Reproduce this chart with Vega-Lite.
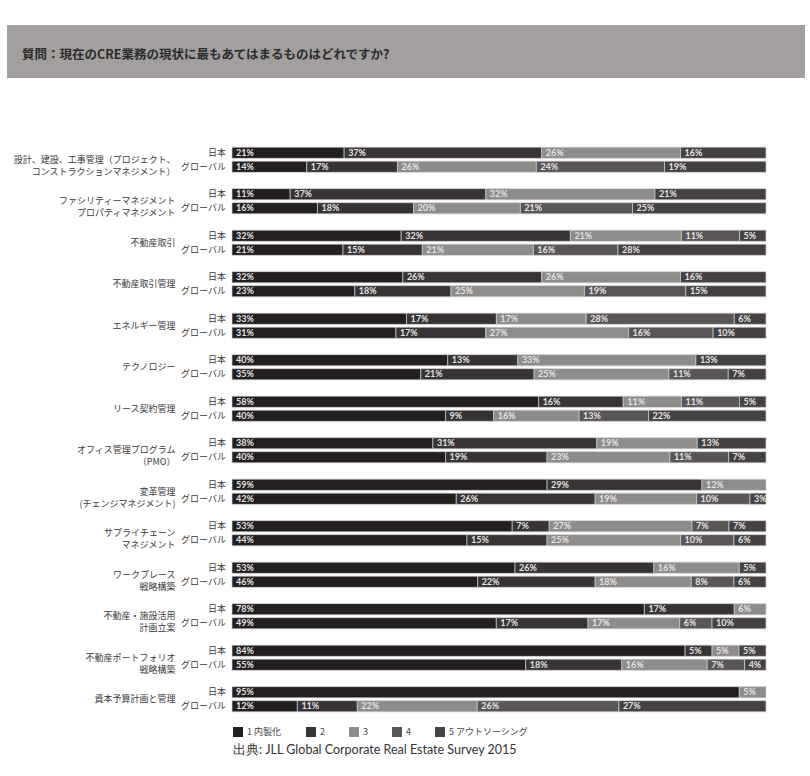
{
  "$schema": "https://vega.github.io/schema/vega-lite/v6.json",
  "background": "white",
  "padding": {"left": 7, "top": 25, "right": 5, "bottom": 5},
  "config": {
    "font": "Noto Sans CJK JP",
    "view": {"stroke": null},
    "concat": {"spacing": 61}
  },
  "title": {
    "text": "出典: JLL Global Corporate Real Estate Survey 2015",
    "orient": "bottom",
    "anchor": "start",
    "frame": "group",
    "font": "Lato",
    "fontSize": 12.5,
    "fontWeight": "normal",
    "color": "#333333",
    "dx": 226,
    "offset": 7
  },
  "datasets": {
    "segments": [
      {"c": "設計、建設、工事管理（プロジェクト、|コンストラクションマネジメント）", "r": "日本", "s": "1 内製化", "v": 0.21},
      {"c": "設計、建設、工事管理（プロジェクト、|コンストラクションマネジメント）", "r": "日本", "s": "2", "v": 0.37},
      {"c": "設計、建設、工事管理（プロジェクト、|コンストラクションマネジメント）", "r": "日本", "s": "3", "v": 0.26},
      {"c": "設計、建設、工事管理（プロジェクト、|コンストラクションマネジメント）", "r": "日本", "s": "5 アウトソーシング", "v": 0.16},
      {"c": "設計、建設、工事管理（プロジェクト、|コンストラクションマネジメント）", "r": "グローバル", "s": "1 内製化", "v": 0.14},
      {"c": "設計、建設、工事管理（プロジェクト、|コンストラクションマネジメント）", "r": "グローバル", "s": "2", "v": 0.17},
      {"c": "設計、建設、工事管理（プロジェクト、|コンストラクションマネジメント）", "r": "グローバル", "s": "3", "v": 0.26},
      {"c": "設計、建設、工事管理（プロジェクト、|コンストラクションマネジメント）", "r": "グローバル", "s": "4", "v": 0.24},
      {"c": "設計、建設、工事管理（プロジェクト、|コンストラクションマネジメント）", "r": "グローバル", "s": "5 アウトソーシング", "v": 0.19},

      {"c": "ファシリティーマネジメント|プロパティマネジメント", "r": "日本", "s": "1 内製化", "v": 0.11},
      {"c": "ファシリティーマネジメント|プロパティマネジメント", "r": "日本", "s": "2", "v": 0.37},
      {"c": "ファシリティーマネジメント|プロパティマネジメント", "r": "日本", "s": "3", "v": 0.32},
      {"c": "ファシリティーマネジメント|プロパティマネジメント", "r": "日本", "s": "5 アウトソーシング", "v": 0.21},
      {"c": "ファシリティーマネジメント|プロパティマネジメント", "r": "グローバル", "s": "1 内製化", "v": 0.16},
      {"c": "ファシリティーマネジメント|プロパティマネジメント", "r": "グローバル", "s": "2", "v": 0.18},
      {"c": "ファシリティーマネジメント|プロパティマネジメント", "r": "グローバル", "s": "3", "v": 0.20},
      {"c": "ファシリティーマネジメント|プロパティマネジメント", "r": "グローバル", "s": "4", "v": 0.21},
      {"c": "ファシリティーマネジメント|プロパティマネジメント", "r": "グローバル", "s": "5 アウトソーシング", "v": 0.25},

      {"c": "不動産取引", "r": "日本", "s": "1 内製化", "v": 0.32},
      {"c": "不動産取引", "r": "日本", "s": "2", "v": 0.32},
      {"c": "不動産取引", "r": "日本", "s": "3", "v": 0.21},
      {"c": "不動産取引", "r": "日本", "s": "4", "v": 0.11},
      {"c": "不動産取引", "r": "日本", "s": "5 アウトソーシング", "v": 0.05},
      {"c": "不動産取引", "r": "グローバル", "s": "1 内製化", "v": 0.21},
      {"c": "不動産取引", "r": "グローバル", "s": "2", "v": 0.15},
      {"c": "不動産取引", "r": "グローバル", "s": "3", "v": 0.21},
      {"c": "不動産取引", "r": "グローバル", "s": "4", "v": 0.16},
      {"c": "不動産取引", "r": "グローバル", "s": "5 アウトソーシング", "v": 0.28},

      {"c": "不動産取引管理", "r": "日本", "s": "1 内製化", "v": 0.32},
      {"c": "不動産取引管理", "r": "日本", "s": "2", "v": 0.26},
      {"c": "不動産取引管理", "r": "日本", "s": "3", "v": 0.26},
      {"c": "不動産取引管理", "r": "日本", "s": "5 アウトソーシング", "v": 0.16},
      {"c": "不動産取引管理", "r": "グローバル", "s": "1 内製化", "v": 0.23},
      {"c": "不動産取引管理", "r": "グローバル", "s": "2", "v": 0.18},
      {"c": "不動産取引管理", "r": "グローバル", "s": "3", "v": 0.25},
      {"c": "不動産取引管理", "r": "グローバル", "s": "4", "v": 0.19},
      {"c": "不動産取引管理", "r": "グローバル", "s": "5 アウトソーシング", "v": 0.15},

      {"c": "エネルギー管理", "r": "日本", "s": "1 内製化", "v": 0.33},
      {"c": "エネルギー管理", "r": "日本", "s": "2", "v": 0.17},
      {"c": "エネルギー管理", "r": "日本", "s": "3", "v": 0.17},
      {"c": "エネルギー管理", "r": "日本", "s": "4", "v": 0.28},
      {"c": "エネルギー管理", "r": "日本", "s": "5 アウトソーシング", "v": 0.06},
      {"c": "エネルギー管理", "r": "グローバル", "s": "1 内製化", "v": 0.31},
      {"c": "エネルギー管理", "r": "グローバル", "s": "2", "v": 0.17},
      {"c": "エネルギー管理", "r": "グローバル", "s": "3", "v": 0.27},
      {"c": "エネルギー管理", "r": "グローバル", "s": "4", "v": 0.16},
      {"c": "エネルギー管理", "r": "グローバル", "s": "5 アウトソーシング", "v": 0.10},

      {"c": "テクノロジー", "r": "日本", "s": "1 内製化", "v": 0.40},
      {"c": "テクノロジー", "r": "日本", "s": "2", "v": 0.13},
      {"c": "テクノロジー", "r": "日本", "s": "3", "v": 0.33},
      {"c": "テクノロジー", "r": "日本", "s": "5 アウトソーシング", "v": 0.13},
      {"c": "テクノロジー", "r": "グローバル", "s": "1 内製化", "v": 0.35},
      {"c": "テクノロジー", "r": "グローバル", "s": "2", "v": 0.21},
      {"c": "テクノロジー", "r": "グローバル", "s": "3", "v": 0.25},
      {"c": "テクノロジー", "r": "グローバル", "s": "4", "v": 0.11},
      {"c": "テクノロジー", "r": "グローバル", "s": "5 アウトソーシング", "v": 0.07},

      {"c": "リース契約管理", "r": "日本", "s": "1 内製化", "v": 0.58},
      {"c": "リース契約管理", "r": "日本", "s": "2", "v": 0.16},
      {"c": "リース契約管理", "r": "日本", "s": "3", "v": 0.11},
      {"c": "リース契約管理", "r": "日本", "s": "4", "v": 0.11},
      {"c": "リース契約管理", "r": "日本", "s": "5 アウトソーシング", "v": 0.05},
      {"c": "リース契約管理", "r": "グローバル", "s": "1 内製化", "v": 0.40},
      {"c": "リース契約管理", "r": "グローバル", "s": "2", "v": 0.09},
      {"c": "リース契約管理", "r": "グローバル", "s": "3", "v": 0.16},
      {"c": "リース契約管理", "r": "グローバル", "s": "4", "v": 0.13},
      {"c": "リース契約管理", "r": "グローバル", "s": "5 アウトソーシング", "v": 0.22},

      {"c": "オフィス管理プログラム|（PMO）", "r": "日本", "s": "1 内製化", "v": 0.38},
      {"c": "オフィス管理プログラム|（PMO）", "r": "日本", "s": "2", "v": 0.31},
      {"c": "オフィス管理プログラム|（PMO）", "r": "日本", "s": "3", "v": 0.19},
      {"c": "オフィス管理プログラム|（PMO）", "r": "日本", "s": "5 アウトソーシング", "v": 0.13},
      {"c": "オフィス管理プログラム|（PMO）", "r": "グローバル", "s": "1 内製化", "v": 0.40},
      {"c": "オフィス管理プログラム|（PMO）", "r": "グローバル", "s": "2", "v": 0.19},
      {"c": "オフィス管理プログラム|（PMO）", "r": "グローバル", "s": "3", "v": 0.23},
      {"c": "オフィス管理プログラム|（PMO）", "r": "グローバル", "s": "4", "v": 0.11},
      {"c": "オフィス管理プログラム|（PMO）", "r": "グローバル", "s": "5 アウトソーシング", "v": 0.07},

      {"c": "変革管理|(チェンジマネジメント)", "r": "日本", "s": "1 内製化", "v": 0.59},
      {"c": "変革管理|(チェンジマネジメント)", "r": "日本", "s": "2", "v": 0.29},
      {"c": "変革管理|(チェンジマネジメント)", "r": "日本", "s": "3", "v": 0.12},
      {"c": "変革管理|(チェンジマネジメント)", "r": "グローバル", "s": "1 内製化", "v": 0.42},
      {"c": "変革管理|(チェンジマネジメント)", "r": "グローバル", "s": "2", "v": 0.26},
      {"c": "変革管理|(チェンジマネジメント)", "r": "グローバル", "s": "3", "v": 0.19},
      {"c": "変革管理|(チェンジマネジメント)", "r": "グローバル", "s": "4", "v": 0.10},
      {"c": "変革管理|(チェンジマネジメント)", "r": "グローバル", "s": "5 アウトソーシング", "v": 0.03},

      {"c": "サプライチェーン|マネジメント", "r": "日本", "s": "1 内製化", "v": 0.53},
      {"c": "サプライチェーン|マネジメント", "r": "日本", "s": "2", "v": 0.07},
      {"c": "サプライチェーン|マネジメント", "r": "日本", "s": "3", "v": 0.27},
      {"c": "サプライチェーン|マネジメント", "r": "日本", "s": "4", "v": 0.07},
      {"c": "サプライチェーン|マネジメント", "r": "日本", "s": "5 アウトソーシング", "v": 0.07},
      {"c": "サプライチェーン|マネジメント", "r": "グローバル", "s": "1 内製化", "v": 0.44},
      {"c": "サプライチェーン|マネジメント", "r": "グローバル", "s": "2", "v": 0.15},
      {"c": "サプライチェーン|マネジメント", "r": "グローバル", "s": "3", "v": 0.25},
      {"c": "サプライチェーン|マネジメント", "r": "グローバル", "s": "4", "v": 0.10},
      {"c": "サプライチェーン|マネジメント", "r": "グローバル", "s": "5 アウトソーシング", "v": 0.06},

      {"c": "ワークプレース|戦略構築", "r": "日本", "s": "1 内製化", "v": 0.53},
      {"c": "ワークプレース|戦略構築", "r": "日本", "s": "2", "v": 0.26},
      {"c": "ワークプレース|戦略構築", "r": "日本", "s": "3", "v": 0.16},
      {"c": "ワークプレース|戦略構築", "r": "日本", "s": "5 アウトソーシング", "v": 0.05},
      {"c": "ワークプレース|戦略構築", "r": "グローバル", "s": "1 内製化", "v": 0.46},
      {"c": "ワークプレース|戦略構築", "r": "グローバル", "s": "2", "v": 0.22},
      {"c": "ワークプレース|戦略構築", "r": "グローバル", "s": "3", "v": 0.18},
      {"c": "ワークプレース|戦略構築", "r": "グローバル", "s": "4", "v": 0.08},
      {"c": "ワークプレース|戦略構築", "r": "グローバル", "s": "5 アウトソーシング", "v": 0.06},

      {"c": "不動産・施設活用|計画立案", "r": "日本", "s": "1 内製化", "v": 0.78},
      {"c": "不動産・施設活用|計画立案", "r": "日本", "s": "2", "v": 0.17},
      {"c": "不動産・施設活用|計画立案", "r": "日本", "s": "3", "v": 0.06},
      {"c": "不動産・施設活用|計画立案", "r": "グローバル", "s": "1 内製化", "v": 0.49},
      {"c": "不動産・施設活用|計画立案", "r": "グローバル", "s": "2", "v": 0.17},
      {"c": "不動産・施設活用|計画立案", "r": "グローバル", "s": "3", "v": 0.17},
      {"c": "不動産・施設活用|計画立案", "r": "グローバル", "s": "4", "v": 0.06},
      {"c": "不動産・施設活用|計画立案", "r": "グローバル", "s": "5 アウトソーシング", "v": 0.10},

      {"c": "不動産ポートフォリオ|戦略構築", "r": "日本", "s": "1 内製化", "v": 0.84},
      {"c": "不動産ポートフォリオ|戦略構築", "r": "日本", "s": "2", "v": 0.05},
      {"c": "不動産ポートフォリオ|戦略構築", "r": "日本", "s": "3", "v": 0.05},
      {"c": "不動産ポートフォリオ|戦略構築", "r": "日本", "s": "5 アウトソーシング", "v": 0.05},
      {"c": "不動産ポートフォリオ|戦略構築", "r": "グローバル", "s": "1 内製化", "v": 0.55},
      {"c": "不動産ポートフォリオ|戦略構築", "r": "グローバル", "s": "2", "v": 0.18},
      {"c": "不動産ポートフォリオ|戦略構築", "r": "グローバル", "s": "3", "v": 0.16},
      {"c": "不動産ポートフォリオ|戦略構築", "r": "グローバル", "s": "4", "v": 0.07},
      {"c": "不動産ポートフォリオ|戦略構築", "r": "グローバル", "s": "5 アウトソーシング", "v": 0.04},

      {"c": "資本予算計画と管理", "r": "日本", "s": "1 内製化", "v": 0.95},
      {"c": "資本予算計画と管理", "r": "日本", "s": "3", "v": 0.05},
      {"c": "資本予算計画と管理", "r": "グローバル", "s": "1 内製化", "v": 0.12},
      {"c": "資本予算計画と管理", "r": "グローバル", "s": "2", "v": 0.11},
      {"c": "資本予算計画と管理", "r": "グローバル", "s": "3", "v": 0.22},
      {"c": "資本予算計画と管理", "r": "グローバル", "s": "4", "v": 0.26},
      {"c": "資本予算計画と管理", "r": "グローバル", "s": "5 アウトソーシング", "v": 0.27}
    ]
  },
  "vconcat": [
    {
      "width": 798,
      "height": 53,
      "view": {"fill": "#a29f9e", "stroke": null},
      "title": {
        "text": "質問：現在のCRE業務の現状に最もあてはまるものはどれですか?",
        "anchor": "start",
        "frame": "group",
        "offset": -36,
        "dx": 15,
        "font": "Noto Sans CJK JP",
        "fontSize": 12.5,
        "fontWeight": "bold",
        "color": "#2b2b2b"
      },
      "data": {"values": [{"band": "question"}]},
      "mark": {"type": "rect", "color": "#a29f9e"},
      "encoding": {}
    },
    {
      "width": 798,
      "height": 581,
      "data": {"name": "segments"},
      "transform": [
        {
          "stack": "v",
          "groupby": ["c", "r"],
          "sort": [{"field": "s"}],
          "offset": "normalize",
          "as": ["x0", "x1"]
        }
      ],
      "encoding": {
        "y": {
          "field": "c",
          "type": "nominal",
          "sort": [
            "設計、建設、工事管理（プロジェクト、|コンストラクションマネジメント）",
            "ファシリティーマネジメント|プロパティマネジメント",
            "不動産取引",
            "不動産取引管理",
            "エネルギー管理",
            "テクノロジー",
            "リース契約管理",
            "オフィス管理プログラム|（PMO）",
            "変革管理|(チェンジマネジメント)",
            "サプライチェーン|マネジメント",
            "ワークプレース|戦略構築",
            "不動産・施設活用|計画立案",
            "不動産ポートフォリオ|戦略構築",
            "資本予算計画と管理"
          ],
          "scale": {"paddingInner": 0.325, "paddingOuter": 0.1625},
          "axis": {
            "title": null,
            "ticks": false,
            "domain": false,
            "offset": -168,
            "labelPadding": 0,
            "labelAlign": "right",
            "labelBaseline": "middle",
            "labelFont": "Noto Sans CJK JP",
            "labelFontSize": 9,
            "labelColor": "#3a3a3a",
            "labelLineHeight": 12,
            "labelLimit": 0,
            "labelExpr": "split(datum.label, '|')"
          }
        },
        "yOffset": {
          "field": "r",
          "type": "nominal",
          "sort": ["日本", "グローバル"],
          "scale": {"paddingInner": 0.2, "paddingOuter": 0.1}
        }
      },
      "layer": [
        {
          "mark": {"type": "bar", "stroke": "#cfcfcf", "strokeWidth": 0.7},
          "encoding": {
            "x": {"field": "x0", "type": "quantitative", "scale": {"domain": [0, 1], "range": [225, 759]}, "axis": null},
            "x2": {"field": "x1"},
            "color": {
              "field": "s",
              "type": "nominal",
              "scale": {
                "domain": ["1 内製化", "2", "3", "4", "5 アウトソーシング"],
                "range": ["#231f20", "#383334", "#8e8b8b", "#5a5657", "#454142"]
              },
              "legend": {
                "orient": "none",
                "legendX": 226,
                "legendY": 702,
                "direction": "horizontal",
                "title": null,
                "symbolType": "square",
                "symbolSize": 100,
                "symbolStrokeWidth": 0,
                "symbolOpacity": 1,
                "labelFont": "Noto Sans CJK JP",
                "labelFontSize": 9,
                "labelColor": "#444444",
                "columnPadding": 24
              }
            }
          }
        },
        {
          "mark": {"type": "text", "align": "left", "baseline": "middle", "dx": 4, "font": "Lato", "fontSize": 9, "fontWeight": "bold", "color": "#e4e4e4"},
          "encoding": {
            "x": {"field": "x0", "type": "quantitative"},
            "text": {"field": "v", "type": "quantitative", "format": ".0%"}
          }
        },
        {
          "transform": [{"filter": "datum.s === '1 内製化'"}],
          "mark": {"type": "text", "align": "right", "baseline": "middle", "dx": -6, "font": "Noto Sans CJK JP", "fontSize": 9, "color": "#3a3a3a"},
          "encoding": {
            "x": {"datum": 0, "type": "quantitative"},
            "text": {"field": "r", "type": "nominal"}
          }
        }
      ]
    }
  ]
}
